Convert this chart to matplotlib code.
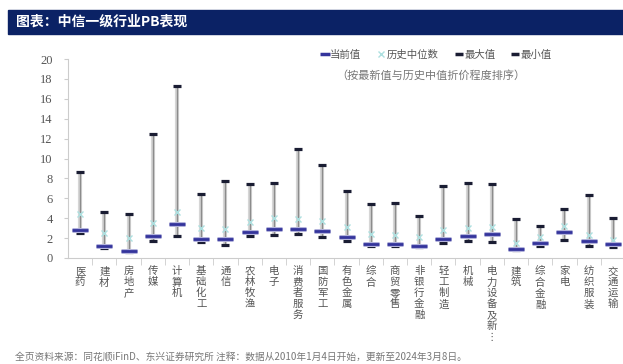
import numpy as np
import matplotlib
matplotlib.use('Agg')
from matplotlib import pyplot as plt
from matplotlib.lines import Line2D
from matplotlib.patches import Rectangle

plt.rcParams['font.family'] = ['Noto Sans CJK SC', 'DejaVu Sans']

# 中信一级行业 PB
industries = ['医药', '建材', '房地产', '传媒', '计算机', '基础化工', '通信', '农林牧渔',
              '电子', '消费者服务', '国防军工', '有色金属', '综合', '商贸零售', '非银行金融',
              '轻工制造', '机械', '电力设备及新⋮', '建筑', '综合金融', '家电', '纺织服装', '交通运输']
current = [2.84, 1.17, 0.74, 2.24, 3.41, 1.94, 1.91, 2.58, 2.94, 2.91, 2.74, 2.14, 1.44,
           1.37, 1.20, 1.94, 2.24, 2.37, 0.87, 1.47, 2.64, 1.71, 1.44]
median = [4.45, 2.50, 1.97, 3.50, 4.58, 3.00, 2.94, 3.60, 3.98, 3.91, 3.75, 3.14, 2.41,
          2.27, 2.07, 2.78, 2.98, 3.08, 1.50, 2.11, 3.24, 2.34, 1.81]
max_pb = [8.6, 4.6, 4.45, 12.5, 17.3, 6.39, 7.76, 7.46, 7.49, 11.0, 9.36, 6.69, 5.38,
          5.48, 4.25, 7.19, 7.49, 7.42, 3.95, 3.18, 4.92, 6.29, 3.98]
min_pb = [2.47, 1.04, 0.64, 1.67, 2.17, 1.60, 1.27, 2.24, 2.31, 2.41, 2.07, 1.74, 1.17,
          1.17, 1.10, 1.50, 1.74, 1.64, 0.80, 1.24, 1.84, 1.17, 1.10]
yticks = list(range(0, 21, 2))

W, H = 623, 364
fig = plt.figure(figsize=(W / 100, H / 100), dpi=100)

# title bar
fig.patches.append(Rectangle((8 / W, 1 - 34 / H), 1 - 8 / W, 24 / H,
                             transform=fig.transFigure, color='#0b2265', zorder=0))
fig.text(16 / W, 1 - 22 / H, '图表：中信一级行业PB表现', color='white',
         fontsize=10, fontweight='bold', va='center', ha='left')

ax = fig.add_axes([68 / W, 1 - 258 / H, 557 / W, 199 / H])
x = np.arange(len(industries))

ax.vlines(x, min_pb, max_pb, color='#d6d6d6', lw=3, zorder=1)
ax.vlines(x, min_pb, max_pb, color='#8c8c8c', lw=1, zorder=2)
ax.plot(x, max_pb, ls='none', marker='_', ms=6, mew=2.3, color='#1a1d33', zorder=3)
ax.plot(x, min_pb, ls='none', marker='_', ms=6, mew=2.3, color='#1a1d33', zorder=3)
ax.plot(x, median, ls='none', marker='x', ms=5, mew=1, color='#ade0e0', zorder=4)
ax.plot(x, current, ls='none', marker='_', ms=12, mew=3.6, color='#b4b4dc', zorder=5)
ax.plot(x, current, ls='none', marker='_', ms=11, mew=2, color='#34349c', zorder=6)

ax.set_xlim(-0.5, len(industries) - 0.5)
ax.set_ylim(0, 20)
ax.set_yticks(yticks)
ax.set_yticklabels([str(v) for v in yticks], family='Liberation Serif', fontsize=9, color='#555555')
ax.tick_params(axis='y', direction='out', length=3, color='#cccccc', pad=8)

ax.set_xticks(x)
ax.set_xticklabels(['\n'.join(name) for name in industries], fontsize=7.5,
                   color='#555555', linespacing=1.12)
ax.tick_params(axis='x', length=0, pad=6)
ax.set_xticks(np.arange(len(industries) - 1) + 0.5, minor=True)
ax.tick_params(axis='x', which='minor', direction='out', length=5, color='#cccccc')

for s in ['top', 'right']:
    ax.spines[s].set_visible(False)
for s in ['left', 'bottom']:
    ax.spines[s].set_color('#cccccc')

handles = [
    Line2D([], [], ls='none', marker='_', ms=7, mew=2.5, color='#34349c'),
    Line2D([], [], ls='none', marker='x', ms=5, mew=1, color='#ade0e0'),
    Line2D([], [], ls='none', marker='_', ms=6, mew=2.5, color='#1a1d33'),
    Line2D([], [], ls='none', marker='_', ms=6, mew=2.5, color='#1a1d33'),
]
fig.legend(handles, ['当前值', '历史中位数', '最大值', '最小值'], loc='center left',
           bbox_to_anchor=(311 / W, 1 - 55 / H), ncol=4, frameon=False, fontsize=7.5,
           handlelength=0.8, handletextpad=0.15, columnspacing=1.5, labelcolor='#555555')
fig.text(336 / W, 1 - 75 / H, '（按最新值与历史中值折价程度排序）', fontsize=8,
         color='#777777', va='center')

fig.text(15 / W, 1 - 357 / H,
         '全页资料来源：同花顺iFinD、东兴证券研究所 注释：数据从2010年1月4日开始，更新至2024年3月8日。',
         fontsize=7, color='#777777', va='center')

fig.savefig('out.png', dpi=100)
